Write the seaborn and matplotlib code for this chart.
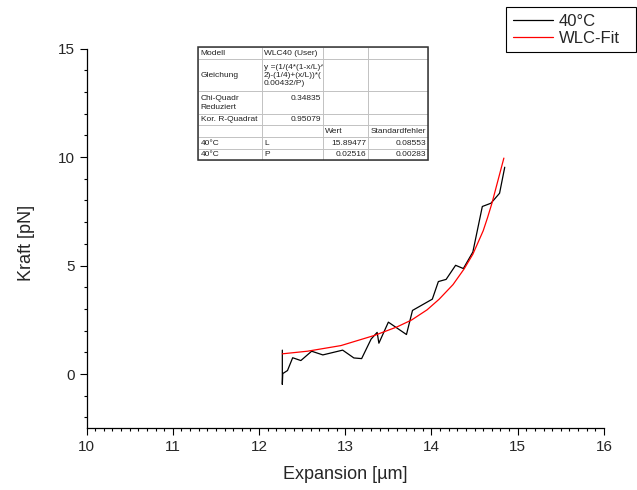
import numpy as np
import pandas as pd
import seaborn as sns
import matplotlib.pyplot as plt
from matplotlib.patches import Rectangle
from matplotlib.ticker import MultipleLocator

# ------------------------------------------
# Messdaten 40°C (abgelesen)
# ------------------------------------------
expansion_40 = [12.27, 12.27, 12.275, 12.33, 12.39, 12.485, 12.61, 12.74, 12.97, 13.10,
                13.19, 13.30, 13.37, 13.39, 13.50, 13.71, 13.78, 14.01, 14.08, 14.17,
                14.28, 14.37, 14.48, 14.59, 14.69, 14.79, 14.85]
kraft_40 = [1.10, -0.48, 0.02, 0.16, 0.75, 0.62, 1.05, 0.88, 1.10, 0.74,
            0.71, 1.61, 1.92, 1.42, 2.39, 1.82, 2.93, 3.45, 4.26, 4.36,
            5.01, 4.86, 5.62, 7.72, 7.87, 8.33, 9.53]

# WLC-Fit Kurve
expansion_fit = [12.27, 12.56, 12.95, 13.34, 13.60, 13.77, 13.95, 14.09, 14.25, 14.38,
                 14.48, 14.60, 14.65, 14.70, 14.77, 14.84]
kraft_fit = [0.93, 1.05, 1.31, 1.78, 2.17, 2.49, 2.96, 3.45, 4.12, 4.85,
             5.52, 6.60, 7.20, 7.85, 8.90, 9.95]

# Fit-Ergebnistabelle
table_rows = [
    ["Modell", "WLC40 (User)", "", ""],
    ["Gleichung", "y =(1/(4*(1-x/L)^\n2)-(1/4)+(x/L))*(\n0.00432/P)", "", ""],
    ["Chi-Quadr\nReduziert", "0.34835\n", "", ""],
    ["Kor. R-Quadrat", "0.95079", "", ""],
    ["", "", "Wert", "Standardfehler"],
    ["40°C", "L", "15.89477", "0.08553"],
    ["40°C", "P", "0.02516", "0.00283"],
]

sns.set_style("ticks")
plt.rcParams['font.family'] = ['Liberation Sans', 'DejaVu Sans']

df_data = pd.DataFrame({'Expansion': expansion_40, 'Kraft': kraft_40})
df_fit = pd.DataFrame({'Expansion': expansion_fit, 'Kraft': kraft_fit})

fig = plt.figure(figsize=(6.37, 4.9), dpi=100)
ax = fig.add_axes([0.136, 0.126, 0.812, 0.775])

sns.lineplot(x='Expansion', y='Kraft', data=df_data, sort=False, estimator=None,
             color='black', linewidth=0.9, ax=ax, label='40°C')
sns.lineplot(x='Expansion', y='Kraft', data=df_fit, sort=False, estimator=None,
             color='red', linewidth=0.9, ax=ax, label='WLC-Fit')

ax.set_xlim(10, 16)
ax.set_ylim(-2.5, 15)
ax.xaxis.set_major_locator(MultipleLocator(1))
ax.xaxis.set_minor_locator(MultipleLocator(0.1))
ax.yaxis.set_major_locator(MultipleLocator(5))
ax.yaxis.set_minor_locator(MultipleLocator(1))
ax.tick_params(which='major', direction='out', length=4.8, width=0.8, labelsize=11, color='black')
ax.tick_params(which='minor', direction='out', length=2.4, width=0.8, color='black')
sns.despine(ax=ax)
for s in ['left', 'bottom']:
    ax.spines[s].set_linewidth(0.9)
    ax.spines[s].set_color('black')

ax.set_xlabel('Expansion [µm]', fontsize=13)
ax.set_ylabel('Kraft [pN]', fontsize=13)
ax.xaxis.set_label_coords(0.5, -0.099)
ax.yaxis.set_label_coords(-0.1, 0.489)

# Legende oben rechts
ax.get_legend().remove()
handles, labels = ax.get_legend_handles_labels()
leg = fig.legend(handles, labels, loc='upper left', mode='expand',
                 bbox_to_anchor=(0.795, 0.5, 0.204, 0.485), borderaxespad=0,
                 fontsize=12, frameon=True, fancybox=False, framealpha=1,
                 edgecolor='black', handlelength=2.4, handletextpad=0.35,
                 labelspacing=0.1, borderpad=0.4)
leg.get_frame().set_linewidth(0.8)

# Tabelle
col_px = [63.4, 61.6, 45.0, 60.0]
row_px = [12, 32, 23, 11, 12, 12, 11]
tb_left, tb_bottom, tb_w, tb_h = 0.2157, 0.7053, 0.4446, 0.2974
tbl = ax.table(cellText=table_rows, colWidths=[c / sum(col_px) for c in col_px],
               cellLoc='left', bbox=[tb_left, tb_bottom, tb_w, tb_h], zorder=5)
tbl.auto_set_font_size(False)
right_cells = {(2, 1), (3, 1), (5, 2), (5, 3), (6, 2), (6, 3)}
for (r, c), cell in tbl.get_celld().items():
    cell.set_height(row_px[r] / sum(row_px))
    cell.set_edgecolor('#bdbdbd')
    cell.set_linewidth(0.6)
    cell.PAD = 0.04
    cell.get_text().set_fontsize(6)
    cell.get_text().set_color('#222222')
    cell.get_text().set_linespacing(1.25)
    if (r, c) in right_cells:
        cell._loc = 'right'
        cell.get_text().set_ha('right')
ax.add_patch(Rectangle((tb_left, tb_bottom), tb_w, tb_h, transform=ax.transAxes,
                       fill=False, edgecolor='#333333', linewidth=1.1, zorder=6,
                       clip_on=False))

plt.savefig('out.png', dpi=100)
